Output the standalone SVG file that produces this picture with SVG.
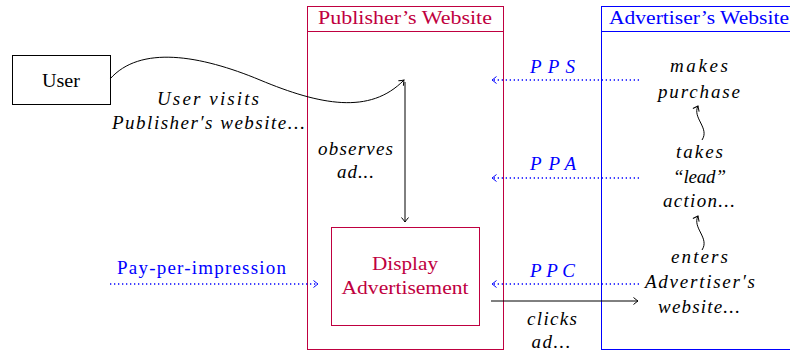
<svg xmlns="http://www.w3.org/2000/svg" width="790" height="350" viewBox="0 0 790 350">
<style>
text{font-family:'Liberation Serif','Times New Roman','DejaVu Serif',serif;font-size:19px;fill:#000}
.it{font-style:italic}
.pur{fill:#BF0040}
.blu{fill:#0000FF}
.box{fill:none;stroke:#000;stroke-width:1}
.pbox{fill:none;stroke:#BF0040;stroke-width:1}
.bbox{fill:none;stroke:#0000FF;stroke-width:1}
.ln{fill:none;stroke:#000;stroke-width:1}
.dot{fill:none;stroke:#0000FF;stroke-width:1.3;stroke-dasharray:1.3 2.7}
</style>
<defs>
<marker id="ah" viewBox="-6 -5 8 10" refX="0" refY="0" markerWidth="8" markerHeight="10" markerUnits="userSpaceOnUse" orient="auto">
<path d="M-4.5,-3.5 Q-1.5,-1 0,0 Q-1.5,1 -4.5,3.5" fill="none" stroke="#000" stroke-width="1"/>
</marker>
<marker id="ahb" viewBox="-6 -5 8 10" refX="0" refY="0" markerWidth="8" markerHeight="10" markerUnits="userSpaceOnUse" orient="auto">
<path d="M-4.5,-3.5 Q-1.5,-1 0,0 Q-1.5,1 -4.5,3.5" fill="none" stroke="#0000FF" stroke-width="1"/>
</marker>
</defs>

<g id="publisher">
<rect class="pbox" x="307.5" y="6.5" width="196" height="343"/>
<line class="pbox" x1="307.5" y1="31.5" x2="503.5" y2="31.5"/>
<text class="pur" x="405" y="24" text-anchor="middle" textLength="174" lengthAdjust="spacingAndGlyphs">Publisher’s Website</text>
</g>

<g id="advertiser">
<rect class="bbox" x="601.5" y="6.5" width="200" height="343"/>
<line class="bbox" x1="601.5" y1="31.5" x2="790" y2="31.5"/>
<text class="blu" x="609" y="24" textLength="180" lengthAdjust="spacingAndGlyphs">Advertiser’s Website</text>
</g>

<g id="user">
<rect class="box" x="12.5" y="55.5" width="98" height="49"/>
<text x="61" y="87" text-anchor="middle" textLength="38" lengthAdjust="spacingAndGlyphs">User</text>
</g>

<g id="display-ad">
<rect class="pbox" x="331.5" y="227.5" width="148" height="98"/>
<text class="pur" x="405" y="270" text-anchor="middle" textLength="66" lengthAdjust="spacingAndGlyphs">Display</text>
<text class="pur" x="405" y="294" text-anchor="middle" textLength="127" lengthAdjust="spacingAndGlyphs">Advertisement</text>
</g>

<g id="makes-purchase">
<text class="it" x="699" y="72" text-anchor="middle" textLength="58" lengthAdjust="spacing">makes</text>
<text class="it" x="699" y="98" text-anchor="middle" textLength="82" lengthAdjust="spacing">purchase</text>
</g>

<g id="takes-lead">
<text class="it" x="699.5" y="158" text-anchor="middle" textLength="47" lengthAdjust="spacing">takes</text>
<text class="it" x="699.5" y="183" text-anchor="middle" textLength="53" lengthAdjust="spacing">“lead”</text>
<text class="it" x="699" y="207" text-anchor="middle" textLength="72" lengthAdjust="spacing">action...</text>
</g>

<g id="enters-site">
<text class="it" x="699.5" y="263" text-anchor="middle" textLength="57" lengthAdjust="spacing">enters</text>
<text class="it" x="700" y="288" text-anchor="middle" textLength="110" lengthAdjust="spacing">Advertiser′s</text>
<text class="it" x="699" y="313" text-anchor="middle" textLength="82" lengthAdjust="spacing">website...</text>
</g>

<g id="connectors">
<path class="ln" d="M110,79 C140,45 200,55 260,80 S370,115 404,80" marker-end="url(#ah)"/>
<line class="ln" x1="405" y1="82" x2="405" y2="222" stroke="#444" marker-end="url(#ah)"/>
<line class="ln" x1="491" y1="301" x2="638" y2="301" stroke="#444" marker-end="url(#ah)"/>
<line class="dot" x1="639" y1="80" x2="492" y2="80" marker-end="url(#ahb)"/>
<line class="dot" x1="639" y1="178" x2="492" y2="178" marker-end="url(#ahb)"/>
<line class="dot" x1="639" y1="284" x2="492" y2="284" marker-end="url(#ahb)"/>
<line class="dot" x1="110" y1="284" x2="318" y2="284" marker-end="url(#ahb)"/>
<path class="ln" d="M702,140 C710,128 692,118 698,106" marker-end="url(#ah)"/>
<path class="ln" d="M702,250 C710,238 692,228 698,216" marker-end="url(#ah)"/>
<text class="it" x="208" y="105" text-anchor="middle" textLength="102" lengthAdjust="spacing">User visits</text>
<text class="it" x="208.5" y="129" text-anchor="middle" textLength="193" lengthAdjust="spacing">Publisher′s website...</text>
<text class="it" x="355.5" y="155" text-anchor="middle" textLength="75" lengthAdjust="spacing">observes</text>
<text class="it" x="355.5" y="178" text-anchor="middle" textLength="37" lengthAdjust="spacing">ad...</text>
<text class="it blu" x="552.5" y="73" text-anchor="middle" textLength="45" lengthAdjust="spacing">PPS</text>
<text class="it blu" x="553" y="170" text-anchor="middle" textLength="46" lengthAdjust="spacing">PPA</text>
<text class="it blu" x="552.5" y="277" text-anchor="middle" textLength="45" lengthAdjust="spacing">PPC</text>
<text class="blu" x="201.5" y="274" text-anchor="middle" textLength="169" lengthAdjust="spacing">Pay-per-impression</text>
<text class="it" x="552" y="325" text-anchor="middle" textLength="50" lengthAdjust="spacing">clicks</text>
<text class="it" x="551" y="348" text-anchor="middle" textLength="39" lengthAdjust="spacing">ad...</text>
</g>
</svg>
